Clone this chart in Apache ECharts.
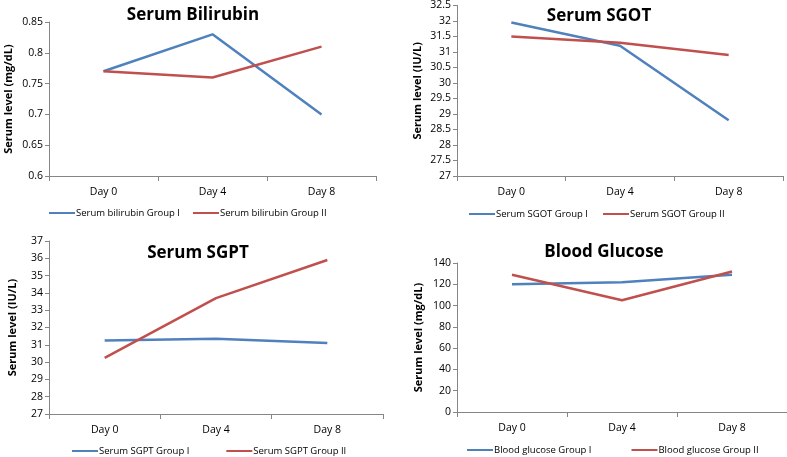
<!DOCTYPE html>
<html><head><meta charset="utf-8">
<script src="https://cdn.jsdelivr.net/npm/echarts@6/dist/echarts.min.js"></script>
<style>html,body{margin:0;padding:0;background:#fff}#c{width:787px;height:457px}</style>
</head><body><div id="c"></div>
<script>
var categories = ['Day 0', 'Day 4', 'Day 8'];

var bilirubinG1 = [0.77, 0.83, 0.70];
var bilirubinG2 = [0.77, 0.76, 0.81];
var sgotG1 = [31.95, 31.2, 28.8];
var sgotG2 = [31.5, 31.3, 30.9];
var sgptG1 = [31.25, 31.35, 31.1];
var sgptG2 = [30.25, 33.7, 35.9];
var glucoseG1 = [120, 122, 129];
var glucoseG2 = [129, 105, 132];

var titles = ['Serum Bilirubin', 'Serum SGOT', 'Serum SGPT', 'Blood Glucose'];
var yNames = ['Serum level (mg/dL)', 'Serum level (IU/L)', 'Serum level (IU/L)', 'Serum level (mg/dL)'];
var seriesNames = [
  ['Serum bilirubin Group I', 'Serum bilirubin Group II'],
  ['Serum SGOT Group I', 'Serum SGOT Group II'],
  ['Serum SGPT Group I', 'Serum SGPT Group II'],
  ['Blood glucose Group I', 'Blood glucose Group II']
];
var seriesData = [
  [bilirubinG1, bilirubinG2],
  [sgotG1, sgotG2],
  [sgptG1, sgptG2],
  [glucoseG1, glucoseG2]
];
var yMin = [0.6, 27, 27, 0];
var yMax = [0.85, 32.5, 37, 140];
var yStep = [0.05, 0.5, 1, 20];

var FONT = '"Open Sans", "Noto Sans", sans-serif';
var BLUE = '#4F81BD', RED = '#C0504D', AXIS = '#868686';

var grids = [
  {left: 49, top: 22, width: 327, height: 154},
  {left: 457, top: 3, width: 326, height: 173},
  {left: 49, top: 241, width: 334, height: 173},
  {left: 457, top: 263, width: 330, height: 149}
];
var titlePos = [
  {x: 188, y: 2},
  {x: 594, y: 3},
  {x: 193, y: 240},
  {x: 599, y: 239}
];
var legendPos = [{x: 49, y: 208}, {x: 469, y: 209}, {x: 72, y: 446}, {x: 467, y: 445}];
var legendGaps = [13, 15, 37, 40];
var nameGaps = [35, 34, 31, 33];

var option = {
  animation: false,
  color: [BLUE, RED],
  title: [], grid: [], xAxis: [], yAxis: [], legend: [], series: []
};

for (var i = 0; i < 4; i++) {
  option.grid.push(Object.assign({containLabel: false}, grids[i]));
  option.title.push({
    text: titles[i], left: titlePos[i].x, top: titlePos[i].y, textAlign: 'center',
    textStyle: {fontFamily: FONT, fontSize: 17, fontWeight: 'bold', color: '#000'}
  });
  option.xAxis.push({
    type: 'category', gridIndex: i, data: categories, boundaryGap: true,
    axisLine: {lineStyle: {color: AXIS, width: 1}},
    axisTick: {show: true, length: 5, lineStyle: {color: AXIS}},
    axisLabel: {fontFamily: FONT, fontSize: 10.5, color: '#000', margin: 11}
  });
  option.yAxis.push({
    type: 'value', gridIndex: i, min: yMin[i], max: yMax[i], interval: yStep[i],
    name: yNames[i], nameLocation: 'middle', nameGap: nameGaps[i], nameRotate: 90,
    nameTextStyle: {fontFamily: FONT, fontSize: 11, fontWeight: 'bold', color: '#000'},
    axisLine: {show: true, lineStyle: {color: AXIS, width: 1}},
    axisTick: {show: true, length: 4, lineStyle: {color: AXIS}},
    splitLine: {show: false},
    axisLabel: {fontFamily: FONT, fontSize: 10.5, color: '#000', margin: 6,
      formatter: function (v) { return String(Math.round(v * 1000) / 1000); }}
  });
  option.legend.push({
    data: seriesNames[i], left: legendPos[i].x, top: legendPos[i].y,
    width: 400, padding: 0,
    orient: 'horizontal', itemWidth: 26, itemHeight: 10, itemGap: legendGaps[i],
    textStyle: {fontFamily: FONT, fontSize: 9.5, color: '#000', padding: [0, 0, 0, -4]},
    icon: 'path://M0,4 L26,4 L26,6 L0,6 Z'
  });
  for (var s = 0; s < 2; s++) {
    option.series.push({
      type: 'line', name: seriesNames[i][s], xAxisIndex: i, yAxisIndex: i,
      data: seriesData[i][s], symbol: 'none',
      lineStyle: {width: 2.5, color: s === 0 ? BLUE : RED},
      itemStyle: {color: s === 0 ? BLUE : RED}
    });
  }
}

var chart = echarts.init(document.getElementById('c'), null, {renderer: 'canvas'});
chart.setOption(option);
</script></body></html>
